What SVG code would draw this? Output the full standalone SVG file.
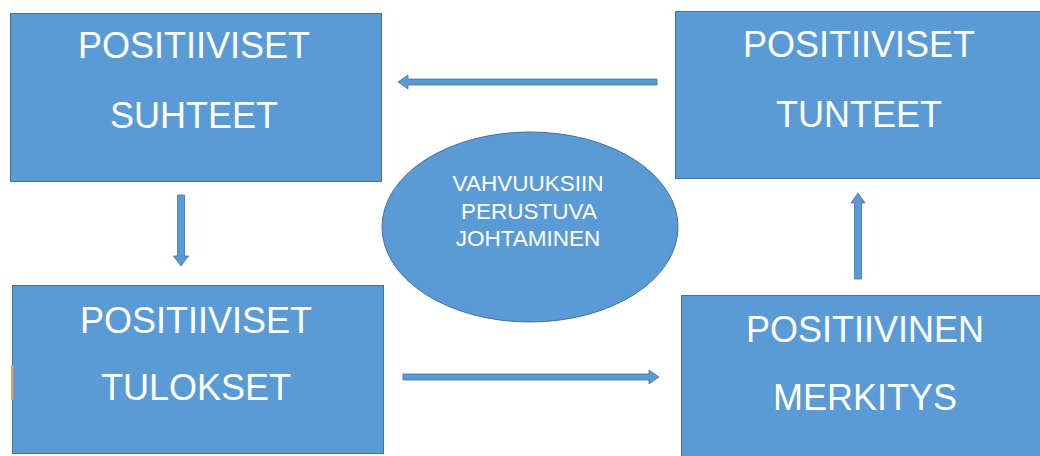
<svg xmlns="http://www.w3.org/2000/svg" width="1040" height="456" viewBox="0 0 1040 456">
<style>
.box{fill:#5B9BD5;stroke:#41719C;stroke-width:1}
.big{font-family:"Liberation Sans",Arial,sans-serif;font-size:36px;fill:#FFFFFF;text-anchor:middle}
.small{font-family:"Liberation Sans",Arial,sans-serif;font-size:22.5px;fill:#FFFFFF;text-anchor:middle}
.arrow{fill:#5B9BD5;stroke:#41719C;stroke-width:0.8}
</style>
<rect x="0" y="0" width="1040" height="456" fill="#FFFFFF"/>
<g id="node-suhteet">
<rect class="box" x="10.5" y="13.5" width="371" height="168"/>
<text class="big" x="194" y="58">POSITIIVISET</text>
<text class="big" x="194" y="128">SUHTEET</text>
</g>
<g id="node-tulokset">
<rect class="box" x="12.5" y="285.5" width="371" height="168"/>
<rect x="11" y="365" width="2.5" height="35" fill="#E8A06A"/>
<text class="big" x="196" y="333">POSITIIVISET</text>
<text class="big" x="196" y="400">TULOKSET</text>
</g>
<g id="node-tunteet">
<rect class="box" x="675.5" y="11.5" width="366" height="167"/>
<text class="big" x="859" y="57">POSITIIVISET</text>
<text class="big" x="859" y="127">TUNTEET</text>
</g>
<g id="node-merkitys">
<rect class="box" x="681.5" y="295.5" width="370" height="170"/>
<text class="big" x="865" y="342">POSITIIVINEN</text>
<text class="big" x="865" y="410">MERKITYS</text>
</g>
<g id="node-johtaminen">
<ellipse class="box" cx="530" cy="227" rx="148" ry="95"/>
<text class="small" x="528" y="191">VAHVUUKSIIN</text>
<text class="small" x="529" y="218.5">PERUSTUVA</text>
<text class="small" x="528" y="245.5">JOHTAMINEN</text>
</g>
<g id="connectors">
<polygon class="arrow" points="657,79 408,79 408,75 398,82 408,89 408,85 657,85"/>
<polygon class="arrow" points="177.5,195 184.5,195 184.5,256 188.5,256 181,266 173.5,256 177.5,256"/>
<polygon class="arrow" points="403,374 649,374 649,370 659,377 649,384 649,380 403,380"/>
<polygon class="arrow" points="854.5,279 861.5,279 861.5,203 865,203 858,193 851,203 854.5,203"/>
</g>
</svg>
